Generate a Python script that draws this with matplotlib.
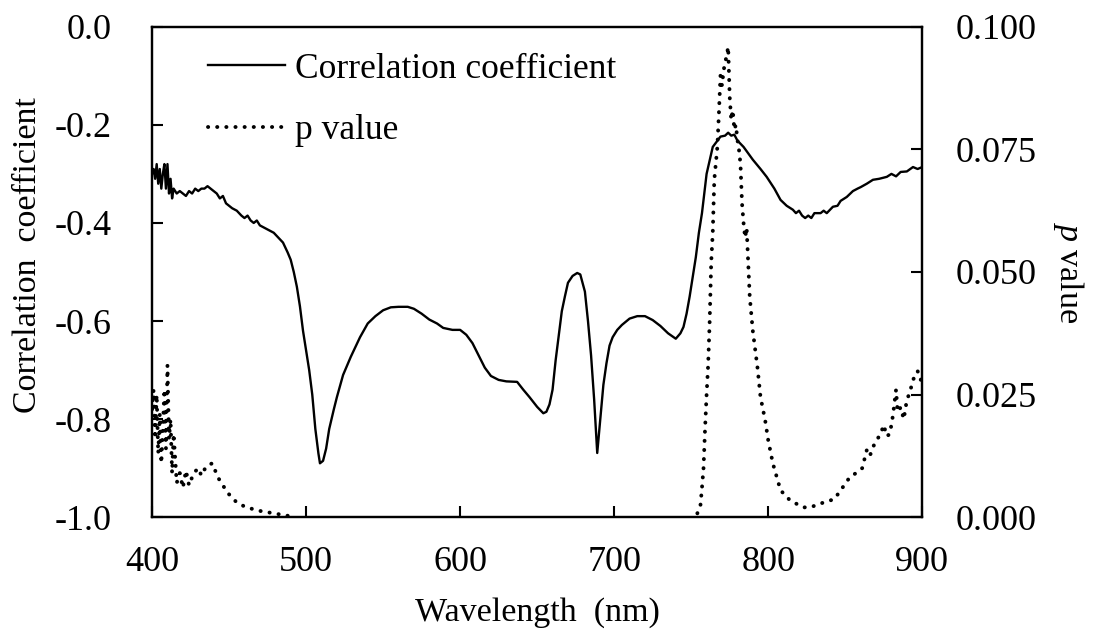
import numpy as np
import matplotlib
matplotlib.use("Agg")
import matplotlib.pyplot as plt

plt.rcParams['font.family'] = ['Liberation Serif', 'DejaVu Serif']
plt.rcParams['mathtext.fontset'] = 'custom'
plt.rcParams['mathtext.it'] = 'Liberation Serif:italic'
plt.rcParams['mathtext.rm'] = 'Liberation Serif'

# correlation coefficient vs wavelength
wl_r = [400, 401, 402, 403, 404, 405, 406, 407, 408, 409, 410, 411, 412, 413, 414,
        416, 418, 420, 422, 424, 426, 428, 430, 432, 434, 436, 438, 440, 442, 444,
        446, 448, 450, 452, 455, 458, 460, 462, 464, 466, 468, 470, 473, 476, 479,
        482, 485, 488, 490, 492, 494, 496, 498, 500, 502, 504, 506, 508, 509, 511,
        513, 515, 518, 520, 524, 529, 535, 540, 545, 550, 555, 560, 566, 570, 575,
        580, 585, 589, 595, 600, 604, 608, 612, 616, 620, 625, 630, 637, 641, 645,
        650, 654, 656, 658, 660, 662, 664, 666, 668, 670, 673, 676, 678, 681, 683,
        685, 687, 689, 691, 693, 695, 697, 699, 702, 705, 710, 715, 720, 725, 730,
        735, 740, 743, 745, 747, 749, 751, 753, 755, 757, 760, 764, 769, 772, 774,
        776, 778, 780, 784, 790, 795, 799, 804, 808, 812, 816, 818, 820, 822, 824,
        826, 828, 830, 834, 836, 838, 842, 845, 847, 851, 855, 858, 860, 864, 868,
        872, 877, 880, 883, 886, 890, 894, 897, 900]
corr = [-0.30, -0.29, -0.31, -0.28, -0.32, -0.29, -0.33, -0.30, -0.28, -0.33, -0.28,
        -0.34, -0.31, -0.35, -0.33, -0.34, -0.335, -0.34, -0.345, -0.335, -0.34, -0.33,
        -0.335, -0.33, -0.33, -0.325, -0.33, -0.335, -0.34, -0.35, -0.345, -0.36,
        -0.365, -0.37, -0.375, -0.385, -0.39, -0.385, -0.395, -0.40, -0.395, -0.405,
        -0.41, -0.415, -0.42, -0.43, -0.44, -0.46, -0.475, -0.50, -0.53, -0.57, -0.62,
        -0.66, -0.70, -0.75, -0.82, -0.87, -0.89, -0.885, -0.86, -0.82, -0.78, -0.755,
        -0.71, -0.673, -0.633, -0.605, -0.59, -0.578, -0.572, -0.571, -0.571, -0.575,
        -0.585, -0.597, -0.605, -0.614, -0.618, -0.618, -0.628, -0.645, -0.67, -0.695,
        -0.712, -0.72, -0.723, -0.724, -0.74, -0.755, -0.775, -0.788, -0.785, -0.77,
        -0.74, -0.68, -0.63, -0.58, -0.55, -0.522, -0.508, -0.502, -0.505, -0.54,
        -0.60, -0.67, -0.76, -0.869, -0.80, -0.73, -0.686, -0.65, -0.633, -0.618,
        -0.608, -0.595, -0.59, -0.59, -0.598, -0.61, -0.625, -0.636, -0.625, -0.612,
        -0.585, -0.55, -0.51, -0.47, -0.42, -0.38, -0.30, -0.245, -0.224, -0.222,
        -0.216, -0.222, -0.22, -0.232, -0.245, -0.271, -0.29, -0.306, -0.33, -0.353,
        -0.365, -0.373, -0.38, -0.375, -0.385, -0.39, -0.385, -0.39, -0.38, -0.38,
        -0.375, -0.38, -0.367, -0.365, -0.355, -0.347, -0.335, -0.33, -0.327, -0.32,
        -0.312, -0.31, -0.306, -0.30, -0.305, -0.296, -0.295, -0.286, -0.29, -0.286]

# p value vs wavelength (nan = gap where p ~ 0)
wl_p = [400, 401, 402, 403, 404, 405, 406, 407, 408, 409, 410, 411, 412, 413, 414,
        416, 418, 420, 422, 424, 427, 430, 432, 435, 439, 441, 443, 446, 449, 452,
        455, 460, 468, 479, 490, 620,
        754, 756, 757, 758, 759, 760, 761, 762, 763, 764, 765, 767, 768, 769, 770,
        771, 772, 773, 774, 775, 776, 777, 778, 779, 780, 781, 782, 783, 784, 785,
        786, 787, 788, 790, 793, 795, 798, 800, 803, 808, 814, 818, 823, 828, 834,
        839, 843, 847, 850, 853, 857, 861, 864, 866, 868, 870, 873, 875, 877, 879,
        881, 883, 884, 886, 888, 890, 892, 894, 897, 899, 900]
pval = [0.022, 0.026, 0.016, 0.025, 0.013, 0.021, 0.011, 0.018, 0.026, 0.014, 0.031,
        0.016, 0.020, 0.009, 0.017, 0.007, 0.009, 0.006, 0.0095, 0.0065, 0.009, 0.0100,
        0.0085, 0.0103, 0.0110, 0.0095, 0.0080, 0.0065, 0.0050, 0.0040, 0.0030, 0.0022,
        0.0014, 0.0008, 0.0002, np.nan,
        0.0008, 0.0024, 0.006, 0.010, 0.018, 0.025, 0.031, 0.040, 0.052, 0.058, 0.0688,
        0.0755, 0.0824, 0.090, 0.088, 0.091, 0.0927, 0.094, 0.0959, 0.0857, 0.081,
        0.083, 0.079, 0.080, 0.077, 0.075, 0.072, 0.064, 0.060, 0.057, 0.059, 0.052,
        0.045, 0.038, 0.0306, 0.0245, 0.0198, 0.0157, 0.011, 0.0055, 0.0035, 0.0028,
        0.0020, 0.0021, 0.0028, 0.0033, 0.0037, 0.0055, 0.0068, 0.0082, 0.0090, 0.010,
        0.0137, 0.0125, 0.0143, 0.0155, 0.017, 0.0188, 0.0165, 0.017, 0.0208, 0.026,
        0.0215, 0.0224, 0.020, 0.0239, 0.0255, 0.028, 0.0298, 0.028, 0.029]

fig = plt.figure(figsize=(10.94, 6.37), dpi=100)
ax = fig.add_axes([0.139, 0.188, 0.704, 0.770])
ax2 = ax.twinx()

l1, = ax.plot(wl_r, corr, color='black', lw=1.7, label='Correlation coefficient')
l2, = ax2.plot(wl_p, pval, color='black', lw=2.8, linestyle=(0, (0.05, 2.3)),
               dash_capstyle='round', label='p value')

ax.set_xlim(400, 900)
ax.set_ylim(-1.0, 0.0)
ax2.set_ylim(0.0, 0.1)
ax.set_xticks([400, 500, 600, 700, 800, 900])
ax.set_yticks(np.arange(-1.0, 0.01, 0.2))
ax.set_yticklabels(['-1.0', '-0.8', '-0.6', '-0.4', '-0.2', '0.0'])
ax2.set_yticks([0.0, 0.025, 0.05, 0.075, 0.1])
ax2.set_yticklabels(['0.000', '0.025', '0.050', '0.075', '0.100'])

fs_tick = 26
fs_lab = 24.5
fs_leg = 25.5
for a in (ax, ax2):
    for s in a.spines.values():
        s.set_linewidth(1.6)
ax.tick_params(axis='x', direction='in', length=8, width=1.5, labelsize=fs_tick, pad=21)
ax.tick_params(axis='y', direction='in', length=8, width=1.5, labelsize=fs_tick, pad=29)
ax2.tick_params(axis='y', direction='in', length=8, width=1.5, labelsize=fs_tick, pad=24)

ax.set_xlabel('Wavelength  (nm)', fontsize=fs_lab, va='center')
ax.xaxis.set_label_coords(0.5, -0.194)
ax.set_ylabel('Correlation  coefficient', fontsize=fs_lab, va='center', ha='center')
ax.yaxis.set_label_coords(-0.162, 0.535)
ax2.set_ylabel('$p$ value', fontsize=fs_lab, rotation=270, va='center', ha='center')
ax2.yaxis.set_label_coords(1.19, 0.5)

ax.legend([l1, l2], ['Correlation coefficient', 'p value'], loc='upper left',
          bbox_to_anchor=(0.0727, 0.947), frameon=False, fontsize=fs_leg,
          handlelength=2.17, handletextpad=0.28, labelspacing=0.8,
          borderpad=0, borderaxespad=0)

fig.savefig('out.png', dpi=100)
